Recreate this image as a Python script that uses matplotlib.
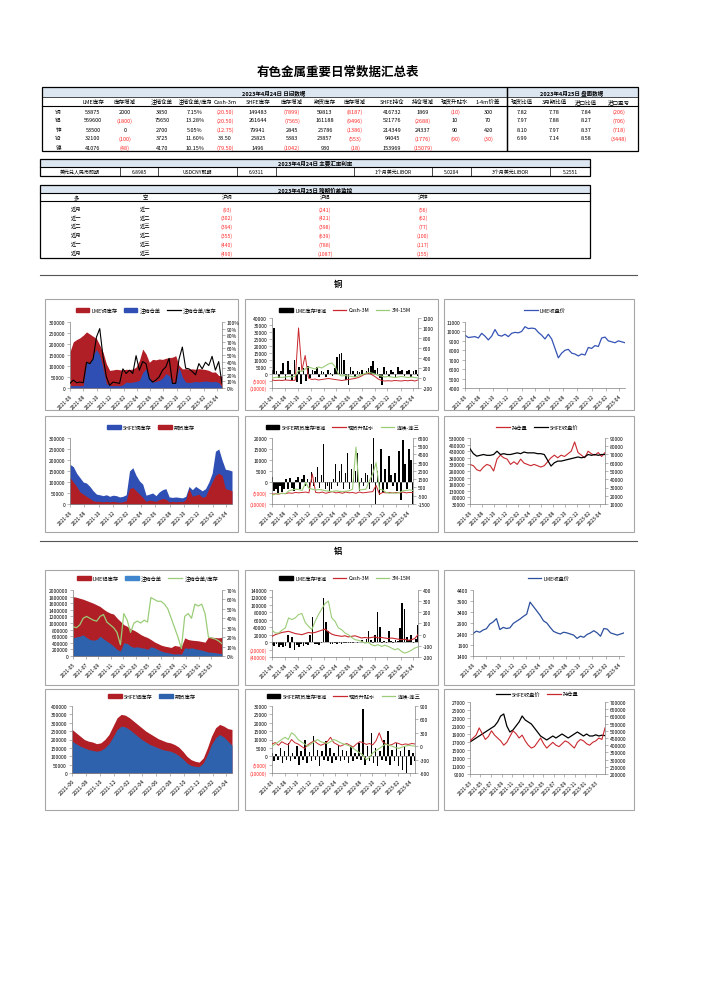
import matplotlib
matplotlib.use('Agg')
import matplotlib.pyplot as plt
from matplotlib.lines import Line2D
from matplotlib.patches import Rectangle, Patch
from matplotlib.transforms import Bbox, TransformedBbox
import pandas as pd

plt.rcParams['font.family'] = ['Noto Sans CJK SC', 'DejaVu Sans']
plt.rcParams['axes.unicode_minus'] = False

W, H = 706, 1004

# ---------------- table data ----------------
metals = ['铜', '铝', '锌', '铅', '镍']
col_heads = ['LME库存', '库存增减', '注销仓单', '注销仓单/库存', 'Cash-3m', 'SHFE库存', '库存增减',
             '期货库存', '库存增减', 'SHFE持仓', '持仓增减', '现货升贴水', '1-4m价差']
lme_stock = ['53875', '569600', '53500', '32100', '41076']
lme_chg = ['2000', '(1800)', '0', '(100)', '(48)']
cancel_wr = ['3850', '75650', '2700', '3725', '4170']
cancel_ratio = ['7.15%', '13.28%', '5.05%', '11.60%', '10.15%']
cash_3m = ['(20.50)', '(20.50)', '(12.75)', '33.50', '(79.50)']
shfe_stock = ['149483', '261644', '79941', '25825', '1496']
shfe_chg = ['(7899)', '(7565)', '2845', '5383', '(1042)']
fut_stock = ['59813', '161188', '25786', '23857', '930']
fut_chg = ['(8187)', '(9496)', '(1386)', '(553)', '(18)']
shfe_oi = ['416732', '521776', '214349', '94045', '153969']
oi_chg = ['1869', '(2688)', '24337', '(1776)', '(15079)']
spot_prem = ['(10)', '10', '90', '(90)', '']
spread_14 = ['300', '70', '420', '(30)', '']

right_heads = ['现货比值', '3月期比值', '进口比值', '进口盈亏']
spot_ratio = ['7.82', '7.97', '8.10', '6.99', '']
m3_ratio = ['7.78', '7.88', '7.97', '7.14', '']
imp_ratio = ['7.84', '8.27', '8.37', '8.58', '']
imp_pl = ['(206)', '(706)', '(718)', '(3448)', '']

fx_cells = ['美元兑人民币即期', '6.8985', 'USDCNY即期', '6.9311', '', '1个月美元LIBOR', '5.0204',
            '3个月美元LIBOR', '5.2551']

spread_long = ['近月', '近一', '近二', '近月', '近一', '近月']
spread_short = ['近一', '近二', '近三', '近二', '近三', '近三']
spread_cu = ['(93)', '(302)', '(394)', '(355)', '(440)', '(490)']
spread_al = ['(241)', '(421)', '(398)', '(639)', '(788)', '(1087)']
spread_zn = ['(56)', '(62)', '(77)', '(100)', '(117)', '(155)']

# ---------------- chart data: copper ----------------
cu_lme_stock = [165000, 210000, 220000, 228000, 240000, 255000, 245000, 235000, 225000, 195000,
                162000, 110000, 80000, 82000, 85000, 83000, 82000, 85000, 84000, 86000,
                95000, 125000, 177000, 155000, 117000, 130000, 128000, 132000, 130000, 135000,
                138000, 140000, 147000, 102000, 87000, 88000, 86000, 87000, 85000, 88000,
                86000, 84000, 80000, 72000, 73000, 57000, 54000]
cu_cancel = [12000, 10000, 12000, 10000, 12000, 117000, 110000, 150000, 175000, 150000,
             90000, 20000, 12000, 10000, 12000, 10000, 15000, 27000, 25000, 27000,
             30000, 35000, 70000, 87000, 50000, 27000, 30000, 35000, 45000, 65000,
             57000, 22000, 25000, 95000, 50000, 27000, 25000, 27000, 30000, 28000,
             30000, 32000, 30000, 28000, 30000, 25000, 5000]
cu_ratio = [7, 12, 8, 9, 8, 39, 37, 44, 77, 90, 47, 17, 4, 9, 8, 7, 29, 22, 27, 22,
            49, 27, 40, 37, 14, 9, 12, 17, 27, 32, 45, 7, 7, 44, 62, 30, 29, 25, 20, 37,
            29, 39, 34, 48, 27, 40, 7]

cu_lme_chg = [3000, 33000, 2000, -3000, 2000, 8000, -4000, 9000, 3000, -5000,
              10000, -6000, 5000, -7000, 4000, -5000, 6000, -3000, 3000, 2000,
              5000, -2000, 2000, 1500, -2000, 3000, 1000, -1500, 4000, 12000,
              14000, 15000, 10000, -4000, -8000, 5000, 2000, -2000, 2500, 1500,
              3000, -1000, 2000, 4000, 6000, 9000, 3000, 4000, -3000, -8000,
              5000, 2000, -2000, 3000, 1500, -2000, 5000, 2000, 3000, -1500,
              2500, 3000, -2000, 2000, 3000, -1500]
cu_cash3m = [-40, -50, -45, -50, -40, -45, -50, -45, 1000, 150,
             450, 0, -30, -20, -40, -30, -20, -10, -20, -30,
             -40, -50, -40, -30, -20, -10, 10, 40, 80, 100,
             70, 30, -20, -50, -60, -55, -60, -50, -55, -60,
             -50, -55, -45, -60, -40]
cu_3m15m = [0, 10, 20, 10, 20, 30, 20, 40, 150, 130,
            180, 220, 200, 180, 220, 200, 240, 280, 300, 230,
            80, 40, 50, 40, 30, 20, 40, 60, 90, 110,
            100, 80, 50, 40, 20, 30, 20, 10, 20, 30,
            20, 10, 20, 10, 0]

cu_lme_price = [9600, 9350, 9400, 9450, 9300, 9800, 9500, 9100, 9500, 10200,
                9600, 9500, 9700, 9450, 9800, 9900, 9850, 10000, 10500, 10300,
                10350, 10300, 9900, 9600, 9200, 9700, 9200, 8200, 7200, 7700,
                8000, 8100, 7700, 7600, 7400, 7600, 7500, 8300, 8200, 8500,
                8400, 9300, 9400, 9000, 8900, 8800, 9000, 8900, 8800]

cu_shfe_stock = [180000, 170000, 140000, 120000, 100000, 95000, 80000, 60000, 45000, 42000,
                 38000, 42000, 35000, 40000, 38000, 32000, 35000, 42000, 150000, 165000,
                 130000, 105000, 90000, 40000, 45000, 50000, 38000, 55000, 65000, 70000,
                 32000, 30000, 32000, 30000, 28000, 35000, 80000, 65000, 80000, 70000,
                 60000, 70000, 100000, 140000, 240000, 250000, 200000, 158000, 155000, 150000]
cu_fut_stock = [120000, 100000, 80000, 55000, 45000, 35000, 25000, 15000, 12000, 12000,
                10000, 12000, 10000, 12000, 10000, 8000, 10000, 15000, 70000, 75000,
                60000, 45000, 30000, 12000, 18000, 15000, 12000, 20000, 25000, 22000,
                10000, 12000, 10000, 12000, 10000, 20000, 70000, 35000, 40000, 45000,
                30000, 35000, 70000, 100000, 130000, 140000, 130000, 70000, 65000, 60000]

cu_fut_chg = [2500, -4000, -3000, -5000, -2000, -4500, -3000, 1500, -3000, 2000,
              -2500, -4000, 1000, 2500, -3000, 1500, 3000, -2000, 1500, -4000,
              4500, -2000, 2500, 7000, -2500, 3000, 17500, -3000, -2000, -4000,
              -3000, 1500, 8000, -2000, 5000, 8000, -3000, 4000, 13000, -3000,
              6000, 2000, 5000, 13000, -4000, 2000, -2000, 4000, 3000, -3000,
              8000, 20000, -10000, 5000, -6000, 15000, -5000, 6000, -3000, 12000,
              3000, -2000, 4000, -4000, 14000, -8000, 19000, 8000, -3000, 15000,
              10000, -10000]
cu_spot_prem = [-330, -250, -300, -200, -250, -150, -200, -100, -150, -100,
                -50, -150, 2150, -100, -150, -50, -200, -100, 0, -150,
                -100, -200, -50, -150, -100, -200, -50, -150, -100, -50,
                0, 750, -300, -100, -150, -100, -150, -100, -150, -50,
                -150, -100, -120]
cu_c1c3 = [-450, -300, -250, -200, -250, 100, 200, 300, 250, 150,
           1100, 400, 300, 200, 250, 200, 100, 50, 0, 100,
           50, 0, 50, 100, 300, 5400, 200, 250, 300, 1300,
           2150, 3500, 300, 200, -100, -200, -150, -200, -100, 100,
           150, 200, 150]

cu_oi = [330000, 320000, 290000, 280000, 310000, 330000, 320000, 280000, 370000, 400000,
         380000, 370000, 330000, 350000, 330000, 370000, 340000, 330000, 320000, 330000,
         320000, 310000, 320000, 350000, 380000, 400000, 380000, 400000, 390000, 410000,
         430000, 500000, 420000, 400000, 380000, 430000, 410000, 400000, 420000, 390000,
         420000]
cu_shfe_price = [77000, 71000, 68000, 69000, 70000, 69000, 69000, 70000, 74000, 70000,
                 71000, 70000, 70000, 71000, 72000, 71000, 73000, 72000, 72000, 72000,
                 71000, 71000, 70000, 63000, 56000, 60000, 62000, 62000, 63000, 64000,
                 65000, 66000, 67000, 66000, 67000, 70000, 69000, 70000, 69000, 70000,
                 70000]

# ---------------- chart data: aluminium ----------------
al_lme_stock = [1800000, 1780000, 1750000, 1720000, 1680000, 1640000, 1600000, 1550000, 1500000, 1420000,
                1350000, 1300000, 1270000, 1150000, 1050000, 950000, 900000, 820000, 780000, 720000,
                650000, 600000, 560000, 500000, 430000, 380000, 330000, 300000, 280000, 260000,
                320000, 300000, 290000, 550000, 500000, 480000, 470000, 460000, 440000, 420000,
                580000, 570000, 560000, 550000, 565000]
al_cancel = [550000, 580000, 600000, 640000, 560000, 500000, 480000, 500000, 600000, 520000,
             450000, 380000, 300000, 200000, 150000, 400000, 380000, 300000, 260000, 280000,
             250000, 240000, 200000, 280000, 250000, 200000, 150000, 120000, 100000, 80000,
             60000, 70000, 50000, 250000, 230000, 250000, 220000, 200000, 180000, 150000,
             120000, 110000, 100000, 80000, 76000]
al_ratio = [31, 30, 33, 40, 42, 40, 38, 37, 42, 44,
            36, 33, 30, 25, 12, 45, 38, 25, 35, 37,
            35, 38, 36, 62, 60, 58, 58, 55, 50, 40,
            30, 20, 8, 42, 45, 40, 55, 53, 55, 45,
            20, 19, 18, 16, 13]

al_lme_chg = [-8000, -10000, -6000, -12000, -9000, -14000, -10000, 20000, -15000, 15000,
              -20000, -8000, -12000, -6000, -10000, -5000, -8000, 20000, 68000, -6000,
              -4000, -8000, -3000, 118000, 55000, 30000, -5000, -4000, -3000, -5000,
              -2000, -4000, -3000, -2000, -3000, -1500, -2000, -1000, -1500, -1000,
              5000, -1000, 8000, 30000, 5000, -2000, 20000, 80000, 40000, -2000,
              3000, -1500, 30000, 2000, -2000, 5000, 3000, 38000, 105000, 90000,
              15000, 5000, 20000, -2000, 8000, 45000]
al_cash3m = [-15, 0, 10, 20, 25, 30, 20, 10, 5, 0,
             10, 20, 15, 20, 30, 40, 50, 25, 5, -5,
             -10, -15, -10, -20, -15, -10, -20, -30, -25, -30,
             -25, -20, -30, -25, -30, -35, -30, -35, -40, -45,
             -40, -50, -45, -35, 0]
al_3m15m = [40, 15, 15, 40, 60, 150, 135, 150, 180, 190,
            110, 75, 45, 120, 180, 230, 280, 300, 150, 120,
            60, 45, 15, 0, -25, -45, -50, -60, -75, -70,
            -90, -100, -90, -105, -95, -105, -120, -135, -125, -150,
            -165, -155, -140, -120, -110]

al_lme_price = [2420, 2530, 2480, 2580, 2640, 2850, 2950, 3100, 2600, 2700,
                2650, 2680, 2880, 2980, 3080, 3200, 3300, 3850, 3650, 3450,
                3250, 3000, 2900, 2700, 2520, 2450, 2400, 2480, 2450, 2400,
                2350, 2200, 2300, 2250, 2380, 2450, 2550, 2450, 2300, 2650,
                2620, 2450, 2400, 2350, 2400, 2450]

al_shfe_stock = [260000, 240000, 220000, 200000, 190000, 185000, 175000, 180000, 200000, 230000,
                 280000, 330000, 350000, 345000, 330000, 310000, 290000, 270000, 250000, 235000,
                 220000, 205000, 195000, 185000, 180000, 170000, 155000, 130000, 100000, 80000,
                 70000, 65000, 90000, 150000, 220000, 270000, 290000, 280000, 265000, 260000]
al_fut_stock = [190000, 175000, 160000, 150000, 140000, 135000, 130000, 135000, 150000, 175000,
                215000, 260000, 280000, 275000, 260000, 240000, 220000, 200000, 185000, 170000,
                160000, 150000, 140000, 135000, 130000, 120000, 105000, 85000, 60000, 45000,
                40000, 38000, 60000, 110000, 170000, 210000, 230000, 215000, 190000, 165000]

al_fut_chg = [2000, -3000, 1500, -2000, 5000, -4000, 3000, -2500, 8000, -3000,
              2000, -1500, 6000, -5000, 3000, -2000, 10000, -4000, 2500, -3000,
              12000, -2000, 4000, -6000, 3000, -2000, 9000, -3000, 5000, -4000,
              2000, -2500, 7000, -3000, 4000, -2000, 3000, -4000, 6000, -3000,
              2000, -1500, 8000, -2000, 28000, -5000, 6000, -3000, 14000, -4000,
              5000, -6000, 3000, -2000, 10000, -3000, 15000, -5000, 4000, -3000,
              8000, -6000, 3000, -8000, 6000, -10000, 4000, -5000, 2000, -3000]
al_spot_prem = [50, 80, 20, 100, 60, 30, 150, 80, 50, 0,
                -50, 30, 80, 120, 60, 20, 50, 100, 200, 80,
                40, 0, 30, 60, 20, -20, 50, 100, 80, 40,
                60, 30, 120, 300, 100, 50, 20, 40, 80, 60,
                30, 50, 40, 60, 50]
al_c1c3 = [0, 50, 100, 150, 200, 150, 300, 250, 150, 100,
           50, 0, 50, 100, 150, 100, 80, 60, 100, 150,
           120, 80, 50, 30, 0, -50, -100, -150, -200, -300,
           -250, -150, -100, -50, 0, 50, 20, 0, -30, -50,
           -20, 0, 20, 10, 0]

al_shfe_price = [17000, 17500, 18000, 18500, 19000, 19500, 20000, 20500, 21000, 22000,
                 23500, 24000, 21000, 19500, 20000, 21000, 22000, 23500, 22500, 22000,
                 21500, 20500, 19500, 18500, 18000, 17500, 18000, 18500, 18000, 18500,
                 19000, 18500, 18000, 18500, 19000, 19500, 19000, 18500, 19000, 18500,
                 18500, 18800, 18500, 18700, 18600]
al_oi = [430000, 450000, 470000, 520000, 480000, 440000, 460000, 500000, 470000, 450000,
         430000, 400000, 420000, 460000, 500000, 480000, 450000, 470000, 430000, 400000,
         380000, 390000, 420000, 450000, 410000, 380000, 400000, 420000, 400000, 390000,
         410000, 430000, 420000, 400000, 380000, 420000, 440000, 430000, 410000, 400000,
         420000, 430000, 450000, 440000, 520000]

# ---------------- colours ----------------
RED_TXT = '#ff2a2a'
RED_AREA = '#b01f26'
BLUE_AREA = '#2f4fb5'
BLUE_AL = '#2f62ad'
RED_LINE = '#c8282e'
GREEN = '#9bcd78'
PRICE_BLUE = '#3553b5'
HDR = '#dce6f1'
GRID = '#7f7f7f'

fig = plt.figure(figsize=(W / 100, H / 100), dpi=100)
fig.patch.set_facecolor('white')


def fx(x):
    return x / W


def fy(y):
    return 1 - y / H


def txt(x, y, s, size=4.0, color='black', weight='normal', ha='center', clip=None):
    t = fig.text(fx(x), fy(y), s, fontsize=size, color=color, fontweight=weight, ha=ha, va='center')
    if clip is not None:
        x0, x1 = clip
        t.set_clip_box(TransformedBbox(Bbox.from_extents(fx(x0), 0, fx(x1), 1), fig.transFigure))
        t.set_clip_on(True)
    return t


def line(x0, y0, x1, y1, lw=0.5, color='black'):
    fig.add_artist(Line2D([fx(x0), fx(x1)], [fy(y0), fy(y1)], lw=lw, color=color))


def box(x0, y0, x1, y1, fc='none', ec='black', lw=0.9, z=1):
    fig.add_artist(Rectangle((fx(x0), fy(y1)), fx(x1) - fx(x0), fy(y0) - fy(y1), facecolor=fc,
                             edgecolor=ec, lw=lw, transform=fig.transFigure, zorder=z))


def vcol(s):
    return RED_TXT if s.startswith('(') else 'black'


# ---------------- title + table 1 ----------------
txt(338, 72, '有色金属重要日常数据汇总表', size=9, weight='bold')

box(42, 88, 507, 98, fc=HDR, lw=0)
box(507, 88, 638, 98, fc=HDR, lw=0)
box(42, 88, 507, 152)
box(507, 88, 638, 152)
line(42, 98, 638, 98, lw=0.5)
line(42, 107, 638, 107, lw=0.8)
txt(274, 93, '2023年4月24日 日间数据', weight='bold')
txt(572, 93, '2023年4月25日 盘面数据', weight='bold')

left_x = [93, 125, 162, 195, 225, 258, 292, 325, 355, 392, 423, 455, 488]
right_x = [522, 554, 586, 619]
for i, h in enumerate(col_heads):
    if h == '注销仓单/库存':
        txt(left_x[i], 102, h, clip=(179, 211))
    else:
        txt(left_x[i], 102, h)
for i, h in enumerate(right_heads):
    txt(right_x[i], 102, h)

left_cols = [lme_stock, lme_chg, cancel_wr, cancel_ratio, cash_3m, shfe_stock, shfe_chg,
             fut_stock, fut_chg, shfe_oi, oi_chg, spot_prem, spread_14]
right_cols = [spot_ratio, m3_ratio, imp_ratio, imp_pl]
row_y = [112, 121, 130, 139, 148]
for r, m in enumerate(metals):
    txt(58, row_y[r], m)
    for c, col in enumerate(left_cols):
        txt(left_x[c], row_y[r], col[r], color=vcol(col[r]))
    for c, col in enumerate(right_cols):
        txt(right_x[c], row_y[r], col[r], color=vcol(col[r]))

# ---------------- table 2 ----------------
box(40, 160, 590, 168, fc=HDR, lw=0)
box(40, 160, 590, 177)
line(40, 168, 590, 168, lw=0.8)
txt(315, 164, '2023年4月24日 主要汇率利率', weight='bold', size=4)
fx_edges = [40, 120, 158, 237, 276, 354, 432, 471, 550, 590]
for e in fx_edges[1:-1]:
    line(e, 168, e, 177, lw=0.5)
for i, s in enumerate(fx_cells):
    txt((fx_edges[i] + fx_edges[i + 1]) / 2, 172.5, s, size=3.6)

# ---------------- table 3 ----------------
box(40, 186, 590, 194, fc=HDR, lw=0)
box(40, 186, 590, 259)
line(40, 194, 590, 194, lw=0.8)
line(40, 202, 590, 202, lw=0.8)
txt(315, 190, '2023年4月25日 跨期价差监控', weight='bold', size=4)
sp_x = [76, 145, 227, 325, 423]
for x, h in zip(sp_x, ['多', '空', '沪铜', '沪铝', '沪锌']):
    txt(x, 198, h, size=3.8)
sp_y = [210, 218.5, 227, 236, 245, 254]
for r in range(6):
    txt(sp_x[0], sp_y[r], spread_long[r], size=3.8)
    txt(sp_x[1], sp_y[r], spread_short[r], size=3.8)
    for x, col in zip(sp_x[2:], [spread_cu, spread_al, spread_zn]):
        txt(x, sp_y[r], col[r], size=3.8, color=vcol(col[r]))

# ---------------- section headers ----------------
line(40, 276, 637, 276, lw=0.8, color='#555555')
txt(338, 285, '铜', size=6, weight='bold')
line(40, 542, 637, 542, lw=0.8, color='#555555')
txt(338, 552, '铝', size=6, weight='bold')

# panel frames
for (y0, y1) in [(300, 411), (417, 533), (571, 686), (690, 811)]:
    for (x0, x1) in [(45, 238), (245, 438), (444, 634)]:
        box(x0, y0, x1, y1, ec='#a6a6a6', lw=0.8, z=0)


# ---------------- chart helpers ----------------
def pax(x0, y0, x1, y1):
    ax = fig.add_axes([fx(x0), fy(y1), fx(x1) - fx(x0), fy(y0) - fy(y1)])
    ax.set_facecolor('none')
    for s in ax.spines.values():
        s.set_visible(False)
    for s in ['left', 'bottom']:
        ax.spines[s].set_visible(True)
        ax.spines[s].set_color(GRID)
        ax.spines[s].set_linewidth(0.5)
    ax._px = (y0, y1)
    return ax


def twin(ax):
    a2 = ax.twinx()
    for s in a2.spines.values():
        s.set_visible(False)
    a2.spines['right'].set_visible(True)
    a2.spines['right'].set_color(GRID)
    a2.spines['right'].set_linewidth(0.5)
    return a2


def xaxis(ax, start, end, first_tick, size=3.6):
    ax.set_xlim(pd.Timestamp(start), pd.Timestamp(end))
    ticks = pd.date_range(first_tick, end, freq='2MS')
    ax.set_xticks(ticks)
    ax.set_xticklabels([d.strftime('%Y-%m') for d in ticks], rotation=45, ha='right',
                       rotation_mode='anchor', fontsize=size)
    ax.tick_params(axis='x', length=2, width=0.4, pad=1.5, color=GRID)


def yaxis(ax, ticks, kind='num', size=3.6):
    ax.set_ylim(ticks[0], ticks[-1])
    ax.set_yticks(ticks)
    labels = []
    for v in ticks:
        if kind == 'pct':
            labels.append(f'{v:.0f}%')
        elif kind == 'minus':
            labels.append(f'{v:.0f}')
        else:
            labels.append(f'({abs(v):.0f})' if v < 0 else f'{v:.0f}')
    ax.tick_params(axis='y', length=2, width=0.4, pad=1.5, color=GRID)
    ax.set_yticklabels(labels, fontsize=size)
    for lab, v in zip(ax.get_yticklabels(), ticks):
        if v < 0 and kind == 'num':
            lab.set_color(RED_TXT)


def legend(ax, handles, labels, ly):
    y0, y1 = ax._px
    ax.legend(handles, labels, loc='center', bbox_to_anchor=(0.5, 1 + (y0 - ly) / (y1 - y0)),
              ncol=len(labels), frameon=False, fontsize=3.8, handlelength=2.6, handleheight=0.7,
              handletextpad=0.4, columnspacing=1.2, borderaxespad=0, borderpad=0)


def dates(start, end, n):
    return pd.date_range(start, end, periods=n)


def bar_width(start, end, n):
    return (pd.Timestamp(end) - pd.Timestamp(start)).days / n * 0.75


def rng(a, b, step):
    out = []
    v = a
    while v <= b + 1e-9:
        out.append(v)
        v += step
    return out


S, E = '2021-06-01', '2023-04-25'

# ---------------- copper row 1 ----------------
ax = pax(70, 323, 222, 389)
d = dates(S, E, len(cu_lme_stock))
ax.fill_between(d, cu_lme_stock, 0, color=RED_AREA, lw=0)
ax.fill_between(d, cu_cancel, 0, color=BLUE_AREA, lw=0)
xaxis(ax, S, E, S)
yaxis(ax, rng(0, 300000, 50000))
a2 = twin(ax)
a2.plot(d, cu_ratio, color='black', lw=0.8)
yaxis(a2, rng(0, 100, 10), 'pct')
legend(ax, [Patch(color=RED_AREA), Patch(color=BLUE_AREA), Line2D([], [], color='black', lw=0.9)],
       ['LME铜库存', '注销仓单', '注销仓单/库存'], 311)

ax = pax(272, 319, 418, 389)
d = dates(S, E, len(cu_lme_chg))
ax.bar(d, cu_lme_chg, width=bar_width(S, E, len(cu_lme_chg)), color='black')
ax.axhline(0, color=GRID, lw=0.4)
xaxis(ax, S, E, S)
yaxis(ax, rng(-10000, 40000, 5000))
a2 = twin(ax)
d2 = dates(S, E, len(cu_cash3m))
a2.plot(d2, cu_cash3m, color=RED_LINE, lw=0.7)
a2.plot(d2, cu_3m15m, color=GREEN, lw=0.8)
yaxis(a2, rng(-200, 1200, 200), 'minus')
legend(ax, [Patch(color='black'), Line2D([], [], color=RED_LINE, lw=0.9), Line2D([], [], color=GREEN, lw=0.9)],
       ['LME库存增减', 'Cash-3M', '3M-15M'], 311)

ax = pax(465, 323, 625, 389)
d = dates(S, E, len(cu_lme_price))
ax.plot(d, cu_lme_price, color=PRICE_BLUE, lw=0.9)
xaxis(ax, S, E, S)
yaxis(ax, rng(4000, 11000, 1000))
legend(ax, [Line2D([], [], color=PRICE_BLUE, lw=0.9)], ['LME收盘价'], 311)

# ---------------- copper row 2 ----------------
ax = pax(70, 439, 232, 505)
d = dates(S, E, len(cu_shfe_stock))
ax.fill_between(d, cu_shfe_stock, 0, color=BLUE_AREA, lw=0)
ax.fill_between(d, cu_fut_stock, 0, color=RED_AREA, lw=0)
xaxis(ax, S, E, S)
yaxis(ax, rng(0, 300000, 50000))
legend(ax, [Patch(color=BLUE_AREA), Patch(color=RED_AREA)], ['SHFE铜库存', '期货库存'], 428)

ax = pax(272, 439, 413, 505)
d = dates(S, E, len(cu_fut_chg))
ax.bar(d, cu_fut_chg, width=bar_width(S, E, len(cu_fut_chg)), color='black')
ax.axhline(0, color=GRID, lw=0.4)
xaxis(ax, S, E, S)
yaxis(ax, rng(-10000, 20000, 5000))
a2 = twin(ax)
d2 = dates(S, E, len(cu_spot_prem))
a2.plot(d2, cu_spot_prem, color=RED_LINE, lw=0.7)
a2.plot(d2, cu_c1c3, color=GREEN, lw=0.8)
yaxis(a2, rng(-1500, 6500, 1000), 'minus')
legend(ax, [Patch(color='black'), Line2D([], [], color=RED_LINE, lw=0.9), Line2D([], [], color=GREEN, lw=0.9)],
       ['SHFE期货库存增减', '现货升贴水', '连续-连三'], 428)

ax = pax(470, 439, 605, 505)
d = dates(S, E, len(cu_oi))
ax.plot(d, cu_oi, color=RED_LINE, lw=0.8)
xaxis(ax, S, E, S)
yaxis(ax, rng(30000, 530000, 50000))
a2 = twin(ax)
a2.plot(d, cu_shfe_price, color='black', lw=0.9)
yaxis(a2, rng(10000, 90000, 10000))
legend(ax, [Line2D([], [], color=RED_LINE, lw=0.9), Line2D([], [], color='black', lw=0.9)],
       ['持仓量', 'SHFE收盘价'], 428)

# ---------------- aluminium row 1 ----------------
S2 = '2021-05-01'
ax = pax(73, 591, 222, 657)
d = dates(S2, E, len(al_lme_stock))
ax.fill_between(d, al_lme_stock, 0, color=RED_AREA, lw=0)
ax.fill_between(d, al_cancel, 0, color=BLUE_AL, lw=0)
xaxis(ax, S2, E, S2)
yaxis(ax, rng(0, 2000000, 200000))
a2 = twin(ax)
a2.plot(d, al_ratio, color=GREEN, lw=0.9)
yaxis(a2, rng(0, 70, 10), 'pct')
legend(ax, [Patch(color=RED_AREA), Patch(color='#3f86cf'), Line2D([], [], color=GREEN, lw=0.9)],
       ['LME铝库存', '注销仓单', '注销仓单/库存'], 579)

ax = pax(272, 591, 418, 658)
d = dates(S, E, len(al_lme_chg))
ax.bar(d, al_lme_chg, width=bar_width(S, E, len(al_lme_chg)), color='black')
ax.axhline(0, color=GRID, lw=0.4)
xaxis(ax, S, E, S)
yaxis(ax, rng(-40000, 140000, 20000))
a2 = twin(ax)
d2 = dates(S, E, len(al_cash3m))
a2.plot(d2, al_cash3m, color=RED_LINE, lw=0.8)
a2.plot(d2, al_3m15m, color=GREEN, lw=0.8)
yaxis(a2, rng(-200, 400, 100), 'minus')
legend(ax, [Patch(color='black'), Line2D([], [], color=RED_LINE, lw=0.9), Line2D([], [], color=GREEN, lw=0.9)],
       ['LME库存增减', 'Cash-3M', '3M-15M'], 579)

ax = pax(473, 591, 624, 657)
d = dates(S, E, len(al_lme_price))
ax.plot(d, al_lme_price, color='#2c4f9e', lw=0.9)
xaxis(ax, S, E, S)
yaxis(ax, rng(1400, 4400, 500))
legend(ax, [Line2D([], [], color='#2c4f9e', lw=0.9)], ['LME收盘价'], 579)

# ---------------- aluminium row 2 ----------------
ax = pax(72, 707, 232, 774)
d = dates(S, E, len(al_shfe_stock))
ax.fill_between(d, al_shfe_stock, 0, color=RED_AREA, lw=0)
ax.fill_between(d, al_fut_stock, 0, color=BLUE_AL, lw=0)
xaxis(ax, S, E, S, size=4)
yaxis(ax, rng(0, 400000, 50000))
legend(ax, [Patch(color=RED_AREA), Patch(color=BLUE_AL)], ['SHFE铝库存', '期货库存'], 697)

ax = pax(272, 707, 415, 774)
d = dates(S, E, len(al_fut_chg))
ax.bar(d, al_fut_chg, width=bar_width(S, E, len(al_fut_chg)), color='black')
ax.axhline(0, color=GRID, lw=0.4)
xaxis(ax, S, E, S)
yaxis(ax, rng(-10000, 30000, 5000))
a2 = twin(ax)
d2 = dates(S, E, len(al_spot_prem))
a2.plot(d2, al_spot_prem, color=RED_LINE, lw=0.7)
a2.plot(d2, al_c1c3, color=GREEN, lw=0.8)
yaxis(a2, rng(-600, 900, 300), 'minus')
legend(ax, [Patch(color='black'), Line2D([], [], color=RED_LINE, lw=0.9), Line2D([], [], color=GREEN, lw=0.9)],
       ['SHFE期货库存增减', '现货升贴水', '连续-连三'], 697)

S3 = '2021-03-01'
ax = pax(470, 703, 605, 775)
d = dates(S3, E, len(al_shfe_price))
ax.plot(d, al_shfe_price, color='black', lw=0.9)
xaxis(ax, S3, E, S3)
yaxis(ax, rng(9000, 27000, 2000))
a2 = twin(ax)
a2.plot(d, al_oi, color=RED_LINE, lw=0.8)
yaxis(a2, rng(200000, 700000, 50000))
legend(ax, [Line2D([], [], color='black', lw=0.9), Line2D([], [], color=RED_LINE, lw=0.9)],
       ['SHFE收盘价', '持仓量'], 695)

fig.savefig('out.png', dpi=100, facecolor='white')
